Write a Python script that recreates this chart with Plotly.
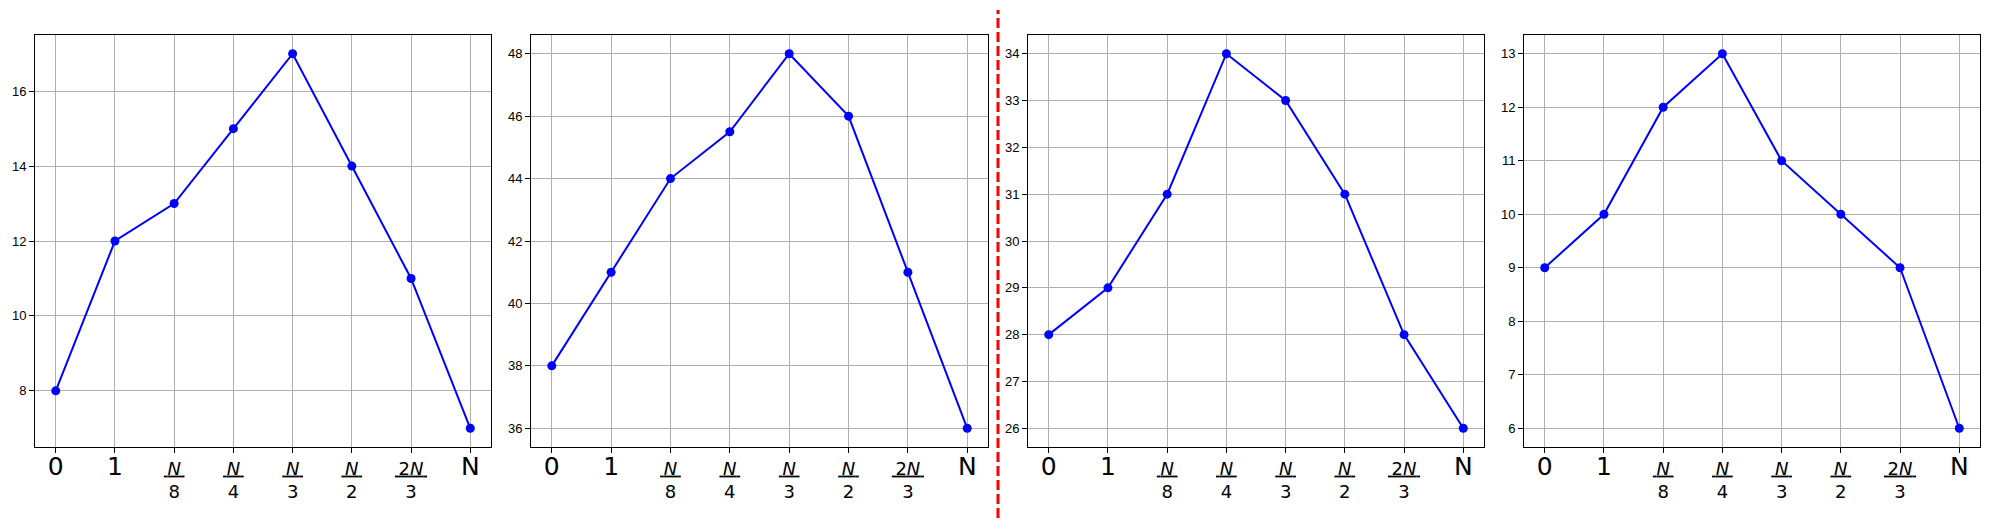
import plotly.graph_objects as go
from plotly.subplots import make_subplots

# x categories (drawn at positions 0..7)
x_pos = [0, 1, 2, 3, 4, 5, 6, 7]
x_labels = ["0", "1", "N/8", "N/4", "N/3", "N/2", "2N/3", "N"]

# one series per panel
panel1 = [8, 12, 13, 15, 17, 14, 11, 7]
panel2 = [38, 41, 44, 45.5, 48, 46, 41, 36]
panel3 = [28, 29, 31, 34, 33, 31, 28, 26]
panel4 = [9, 10, 12, 13, 11, 10, 9, 6]

y_ticks1 = [8, 10, 12, 14, 16]
y_ticks2 = [36, 38, 40, 42, 44, 46, 48]
y_ticks3 = [26, 27, 28, 29, 30, 31, 32, 33, 34]
y_ticks4 = [6, 7, 8, 9, 10, 11, 12, 13]


def tick_html(lab):
    # fractions as numerator over denominator, plain labels bigger
    if "/" in lab:
        num, den = lab.split("/")
        num = num.replace("N", "<i>N</i>")
        return "<u>\u2009" + num + "\u2009</u><br>" + den
    return "<span style='font-size:25px'>" + lab + "</span>"


ticktext = [tick_html(l) for l in x_labels]

series = [panel1, panel2, panel3, panel4]
yticks = [y_ticks1, y_ticks2, y_ticks3, y_ticks4]

fig = make_subplots(rows=1, cols=4)

# page body has an 8px margin, so the figure is a bit smaller than the window
OFF = 8
W, H = 1989 - 2 * OFF, 530 - 2 * OFF


def fx(px):
    return (px - OFF) / W


def fy(py):
    return 1 - (py - OFF) / H


x_px = [(35, 491), (531, 988), (1028, 1484), (1524, 1980)]
y_dom = [fy(447), fy(35)]

for i, vals in enumerate(series):
    fig.add_trace(go.Scatter(
        x=x_pos, y=vals,
        mode='lines+markers',
        line=dict(color='#0000ff', width=2),
        marker=dict(color='#0000ff', size=9),
        showlegend=False,
    ), row=1, col=i + 1)

    lo, hi = min(vals), max(vals)
    pad = (hi - lo) * 0.05
    n = '' if i == 0 else str(i + 1)
    fig.layout['xaxis' + n].update(
        domain=[fx(x_px[i][0]), fx(x_px[i][1])],
        range=[-0.35, 7.35],
        tickvals=x_pos, ticktext=ticktext,
        tickfont=dict(family='DejaVu Sans', size=18, color='black'),
        showline=True, mirror=True, linecolor='black', linewidth=1,
        ticks='outside', ticklen=5, tickcolor='black',
        showgrid=True, gridcolor='#b0b0b0', gridwidth=1, zeroline=False,
        automargin=False,
    )
    fig.layout['yaxis' + n].update(
        domain=y_dom,
        range=[lo - pad, hi + pad],
        tickvals=yticks[i],
        tickfont=dict(family='Liberation Sans', size=13, color='black'),
        showline=True, mirror=True, linecolor='black', linewidth=1,
        ticks='outside', ticklen=5, tickcolor='black',
        showgrid=True, gridcolor='#b0b0b0', gridwidth=1, zeroline=False,
        automargin=False,
    )

# red dashed separator between the two pairs of panels
fig.add_shape(
    type='line', xref='paper', yref='paper',
    x0=fx(998), x1=fx(998), y0=fy(518), y1=fy(10),
    line=dict(color='red', width=3, dash='10px,4px'),
)

fig.update_layout(
    width=W, height=H,
    margin=dict(l=0, r=0, t=0, b=0),
    paper_bgcolor='white',
    plot_bgcolor='white',
)

fig.write_html("out.html")
